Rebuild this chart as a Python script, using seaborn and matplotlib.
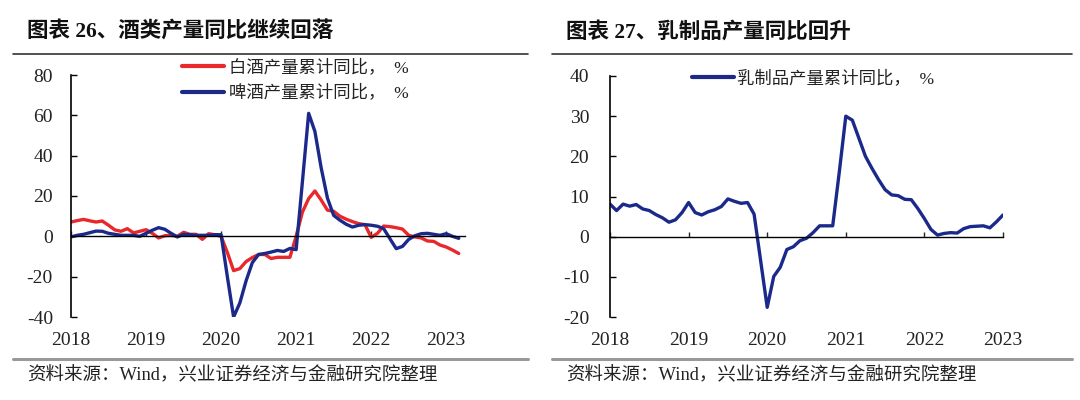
import matplotlib
matplotlib.use("Agg")
import matplotlib.pyplot as plt
from matplotlib.lines import Line2D
import pandas as pd
import seaborn as sns

# monthly cumulative yoy, %, 2018-01 onwards
baijiu = [7.1, 7.8, 8.4, 7.7, 7.1, 7.6, 5.5, 3.2, 2.5, 3.8, 1.7, 2.5,
          3.3, 1.5, -0.8, 0.3, 0.5, 0.0, 2.0, 1.0, 1.0, -1.5, 1.3, 0.8,
          0.0, -8.0, -17.0, -16.0, -12.5, -10.5, -9.0, -9.0, -11.0, -10.4, -10.4, -10.4,
          0.0, 12.0, 18.7, 22.5, 18.0, 13.0, 12.4, 10.0, 8.5, 7.3, 6.3, 5.8,
          -0.5, 1.5, 5.1, 4.8, 4.3, 3.6, 0.5, -0.3, -0.8, -2.3, -2.5, -4.3,
          -5.3, -6.8, -8.5]
beer = [-0.3, 0.5, 1.0, 1.8, 2.6, 2.5, 1.5, 1.0, 0.5, 0.5, 0.5, 0.0,
        1.5, 3.0, 4.3, 3.5, 1.5, -0.3, 1.0, 0.8, 0.5, 0.5, 0.5, 0.8,
        0.8, -20.0, -40.0, -33.0, -22.0, -13.0, -9.0, -8.5, -7.8, -7.0, -7.5, -6.0,
        -6.6, 27.0, 61.0, 52.0, 34.0, 19.0, 10.4, 8.0, 6.0, 4.6, 5.5, 5.8,
        5.5, 5.0, 3.8, -1.2, -6.1, -5.0, -1.5, 0.3, 1.3, 1.5, 1.0, 0.5,
        1.3, 0.0, -1.0]
dairy = [8.1, 6.5, 8.1, 7.6, 8.0, 6.9, 6.5, 5.5, 4.7, 3.6, 4.2, 6.0,
         8.5, 6.0, 5.4, 6.2, 6.7, 7.5, 9.4, 8.8, 8.3, 8.5, 5.6, -6.0,
         -17.6, -9.9, -7.6, -3.2, -2.5, -1.0, -0.4, 1.0, 2.7, 2.7, 2.7, 16.0,
         30.0, 29.0, 24.5, 20.0, 17.0, 14.2, 11.7, 10.4, 10.2, 9.3, 9.2, 7.0,
         4.5, 1.8, 0.4, 0.8, 1.0, 0.9, 2.0, 2.5, 2.6, 2.7, 2.2, 3.7,
         5.4]
years = ["2018", "2019", "2020", "2021", "2022", "2023"]
year_pos = [0, 12, 24, 36, 48, 60]

RED = "#E8282B"
BLUE = "#1B2A8A"

sns.set_style("white")
plt.rcParams["font.family"] = ["Liberation Serif", "Noto Sans CJK SC", "DejaVu Sans"]
plt.rcParams["axes.unicode_minus"] = False

left = pd.DataFrame({
    "month": list(range(len(baijiu))) * 2,
    "value": baijiu + beer,
    "series": ["白酒产量累计同比，  %"] * len(baijiu) + ["啤酒产量累计同比，  %"] * len(beer),
})
right = pd.DataFrame({
    "month": list(range(len(dairy))),
    "value": dairy,
    "series": ["乳制品产量累计同比，  %"] * len(dairy),
})

fig = plt.figure(figsize=(10.8, 4), dpi=100)
ax1 = fig.add_axes([71 / 1080, 83 / 400, 394 / 1080, 242 / 400])
ax2 = fig.add_axes([610 / 1080, 83 / 400, 393 / 1080, 241 / 400])

sns.lineplot(data=left, x="month", y="value", hue="series", palette=[RED, BLUE],
             linewidth=2.4, ax=ax1, legend=True)
sns.lineplot(data=right, x="month", y="value", hue="series", palette=[BLUE],
             linewidth=2.4, ax=ax2, legend=True)


def style_axis(ax, ylim, yticks, xmax, ypad):
    ax.set_xlim(0, xmax)
    ax.set_ylim(*ylim)
    ax.set_yticks(yticks)
    ax.set_xlabel("")
    ax.set_ylabel("")
    for s in ["top", "right"]:
        ax.spines[s].set_visible(False)
    ax.spines["left"].set_color("black")
    ax.spines["left"].set_linewidth(1.2)
    ax.spines["bottom"].set_position(("data", 0))
    ax.spines["bottom"].set_color("black")
    ax.spines["bottom"].set_linewidth(1.0)
    ax.set_xticks(year_pos)
    ax.tick_params(axis="x", direction="in", length=3.5, width=1, labelbottom=False, bottom=True)
    ax.tick_params(axis="y", direction="in", length=4, width=1, labelsize=14, pad=ypad, left=True,
                   colors="black")
    for t in ax.get_yticklabels():
        t.set_color("#222222")
    sec = ax.secondary_xaxis(0)
    sec.set_xticks(year_pos)
    sec.set_xticklabels(years)
    sec.tick_params(length=0, labelsize=14, pad=11, labelcolor="#222222")
    sec.spines["bottom"].set_visible(False)


style_axis(ax1, (-40, 80), [-40, -20, 0, 20, 40, 60, 80], 63, 13)
style_axis(ax2, (-20, 40), [-20, -10, 0, 10, 20, 30, 40], 60, 15)

ax1.legend(loc="upper left", bbox_to_anchor=(182 / 1080, 1 - 59 / 400), bbox_transform=fig.transFigure,
           frameon=False, fontsize=12.5, handlelength=2.4, handletextpad=0.3, labelspacing=0.5,
           borderpad=0, borderaxespad=0)
ax2.legend(loc="upper left", bbox_to_anchor=(692 / 1080, 1 - 70 / 400), bbox_transform=fig.transFigure,
           frameon=False, fontsize=12.5, handlelength=2.4, handletextpad=0.2,
           borderpad=0, borderaxespad=0)
for lg in [ax1.get_legend(), ax2.get_legend()]:
    for t in lg.get_texts():
        t.set_color("#222222")
    for h in lg.get_lines():
        h.set_linewidth(3)

# titles, rules and source notes
fig.text(27 / 1080, 1 - 32 / 400, "图表 26、酒类产量同比继续回落", fontsize=15.5, fontweight="bold",
         va="center", ha="left", color="#111111")
fig.text(566 / 1080, 1 - 32 / 400, "图表 27、乳制品产量同比回升", fontsize=15.5, fontweight="bold",
         va="center", ha="left", color="#111111")
for x0, x1 in [(13, 528), (552, 1072)]:
    fig.add_artist(Line2D([x0 / 1080, x1 / 1080], [1 - 54 / 400] * 2, color="#333333", linewidth=1.2))
    fig.add_artist(Line2D([x0 / 1080, x1 / 1080], [1 - 359 / 400] * 2, color="#999999", linewidth=2.2))
fig.text(27 / 1080, 1 - 375 / 400, "资料来源：Wind，兴业证券经济与金融研究院整理", fontsize=13.3,
         va="center", ha="left", color="#222222")
fig.text(566 / 1080, 1 - 375 / 400, "资料来源：Wind，兴业证券经济与金融研究院整理", fontsize=13.3,
         va="center", ha="left", color="#222222")

fig.savefig("out.png", dpi=100)
